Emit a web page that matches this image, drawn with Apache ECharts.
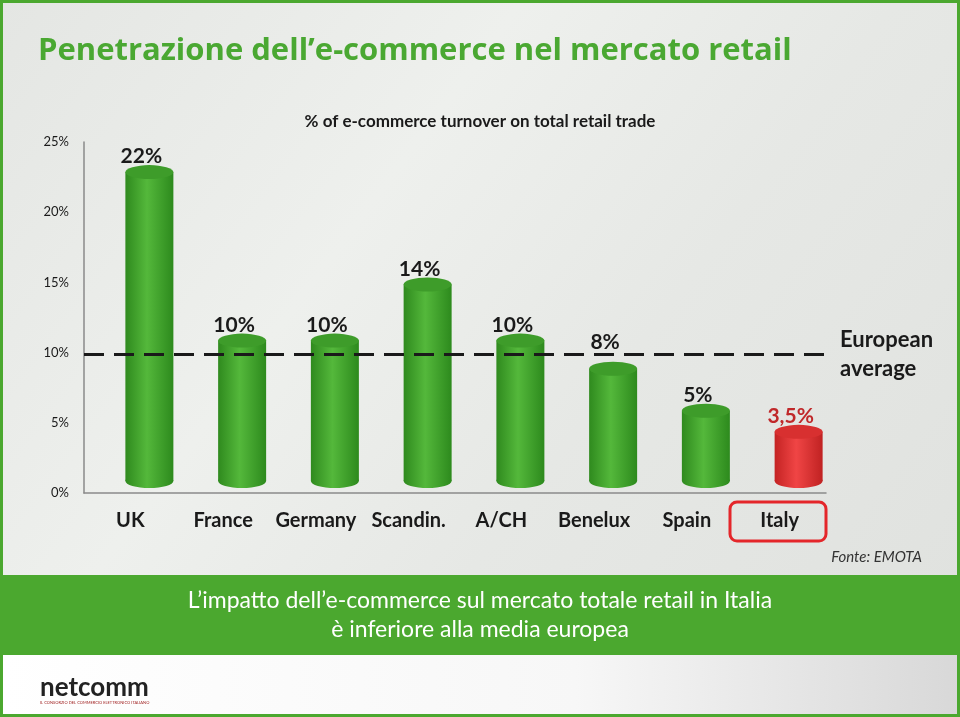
<!DOCTYPE html>
<html><head><meta charset="utf-8">
<script src="https://cdn.jsdelivr.net/npm/echarts@6/dist/echarts.min.js"></script>
<style>html,body{margin:0;padding:0;background:#fff}#c{width:960px;height:717px}</style>
</head><body><div id="c"></div>
<script>
const categories = ['UK','France','Germany','Scandin.','A/CH','Benelux','Spain','Italy'];
const values = [22, 10, 10, 14, 10, 8, 5, 3.5];
const valueLabels = ['22%','10%','10%','14%','10%','8%','5%','3,5%'];
const europeanAverage = 9.9;
const highlight = 'Italy';

const chart = echarts.init(document.getElementById('c'), null, {renderer:'canvas'});
const FONT = 'Lato, "Open Sans", sans-serif';
const TFONT = '"Open Sans", Lato, sans-serif';

function cyl(params, api){
  const idx = api.value(0), v = api.value(1);
  const top = api.coord([idx, v]);
  const base = api.coord([idx, 0]);
  const avgY = api.coord([idx, europeanAverage])[1];
  const dx = 19, dy = -12;
  const cx = top[0] + dx;
  const ty = top[1] + dy, by = base[1] + dy;
  const rx = 24, ry = 7;
  const isRed = categories[idx] === highlight;
  const bodyFill = new echarts.graphic.LinearGradient(0,0,1,0, isRed ? [
    {offset:0,color:'#c42323'},{offset:0.45,color:'#f04545'},{offset:1,color:'#c02222'}] : [
    {offset:0,color:'#2f8a1e'},{offset:0.45,color:'#54b83b'},{offset:1,color:'#2d8a1d'}]);
  const topFill = isRed ? '#d83030' : '#3e9c2a';
  let labelBottom = ty - 5;
  // keep label clear of the dashed average line
  if (labelBottom - 3 > avgY - 2 && labelBottom - 20 < avgY + 2) labelBottom = avgY - 1;
  return {type:'group', children:[
    {type:'rect', shape:{x:cx-rx, y:ty, width:2*rx, height:by-ty}, style:{fill:bodyFill}},
    {type:'circle', x:cx, y:by, scaleY:ry/rx, shape:{cx:0, cy:0, r:rx}, style:{fill:bodyFill}},
    {type:'circle', x:cx, y:ty, scaleY:ry/rx, shape:{cx:0, cy:0, r:rx}, style:{fill:topFill}},
    {type:'text', x:cx-8, y:labelBottom, style:{text:valueLabels[idx], fill: isRed ? '#c0282a' : '#1a1a1a',
      font:'bold 21px '+FONT, textAlign:'center', textVerticalAlign:'bottom'}}
  ]};
}

chart.setOption({
  animation:false,
  backgroundColor: new echarts.graphic.LinearGradient(0,0,1,1,[
    {offset:0,color:'#e4e6e3'},{offset:0.35,color:'#eef0ed'},{offset:0.6,color:'#e6e8e5'},{offset:1,color:'#dfe1de'}]),
  graphic:[
    {type:'rect', shape:{x:0,y:650,width:960,height:67}, style:{fill:new echarts.graphic.LinearGradient(0,0,1,0,[{offset:0,color:'#ffffff'},{offset:0.6,color:'#f7f7f7'},{offset:1,color:'#d8d8d8'}])}},
    {type:'rect', shape:{x:0,y:575,width:960,height:80}, style:{fill:'#4ba82f'}},
    {type:'rect', shape:{x:1.5,y:1.5,width:957,height:714}, style:{fill:'none', stroke:'#4ba82f', lineWidth:3}},
    {type:'text', x:38, y:51, style:{text:'Penetrazione dell\u2019e-commerce nel mercato retail', fill:'#4aa832', font:'bold 31px '+TFONT, textVerticalAlign:'middle'}},
    {type:'text', x:480, y:122, style:{text:'% of e-commerce turnover on total retail trade', fill:'#1a1a1a', font:'bold 17px '+FONT, textAlign:'center', textVerticalAlign:'middle'}},
    {type:'text', x:840, y:340, style:{text:'European', fill:'#1a1a1a', font:'bold 22px '+FONT, textVerticalAlign:'middle'}},
    {type:'text', x:840, y:369, style:{text:'average', fill:'#1a1a1a', font:'bold 22px '+FONT, textVerticalAlign:'middle'}},
    {type:'rect', shape:{x:730,y:502,width:96,height:39,r:7}, style:{fill:'none', stroke:'#e4262a', lineWidth:3}},
    {type:'text', x:922, y:557, style:{text:'Fonte: EMOTA', fill:'#333', font:'italic 15px '+FONT, textAlign:'right', textVerticalAlign:'middle'}},
    {type:'text', x:480, y:601, style:{text:'L\u2019impatto dell\u2019e-commerce sul mercato totale retail in Italia', fill:'#fff', font:'23px '+FONT, textAlign:'center', textVerticalAlign:'middle'}},
    {type:'text', x:480, y:630, style:{text:'\u00e8 inferiore alla media europea', fill:'#fff', font:'23px '+FONT, textAlign:'center', textVerticalAlign:'middle'}},
    {type:'text', x:40, y:688, style:{text:'netcomm', fill:'#222', font:'bold 26px '+FONT, textVerticalAlign:'middle'}},
    {type:'text', x:40, y:703, style:{text:'IL CONSORZIO DEL COMMERCIO ELETTRONICO ITALIANO', fill:'#a02020', font:'4px '+FONT, textVerticalAlign:'middle'}}
  ],
  grid:{left:84, right:134, top:142, bottom:224},
  xAxis:{type:'category', data:categories,
    axisLine:{lineStyle:{color:'#8a8a8a', width:1.5}}, axisTick:{show:false},
    axisLabel:{interval:0, color:'#1a1a1a', fontSize:20, fontWeight:'bold', fontFamily:FONT, margin:18}},
  yAxis:{type:'value', min:0, max:25, interval:5,
    axisLine:{show:true, lineStyle:{color:'#8a8a8a', width:1.5}}, axisTick:{show:false}, splitLine:{show:false},
    axisLabel:{formatter:'{value}%', color:'#1a1a1a', fontSize:13, fontFamily:FONT, margin:15}},
  series:[
    {type:'custom', renderItem:cyl, data:values.map((v,i)=>[i,v]), encode:{x:0,y:1}, z:3},
    {type:'line', data:[], markLine:{symbol:'none', silent:true, label:{show:false},
      lineStyle:{type:[20,10], color:'#1a1a1a', width:3}, data:[{yAxis:europeanAverage}]}, z:2}
  ]
});
</script></body></html>
